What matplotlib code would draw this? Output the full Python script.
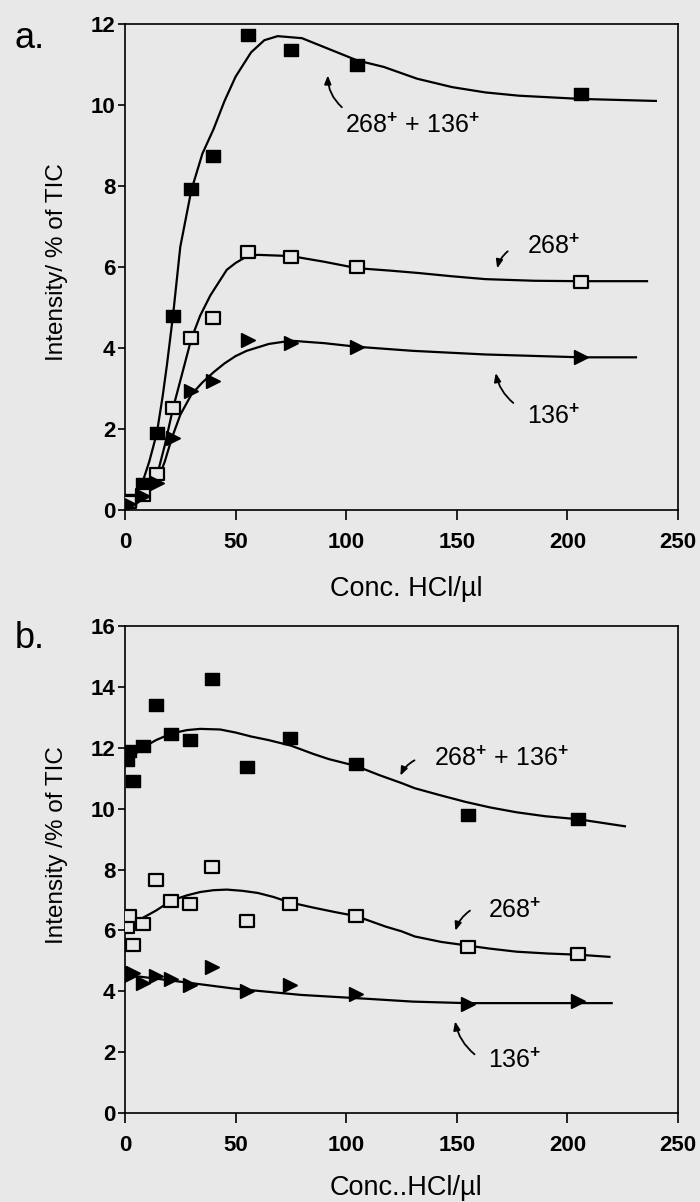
import matplotlib
matplotlib.use('Agg')
import matplotlib.pyplot as plt
from matplotlib.path import Path

plt.rcParams['font.family'] = ['Liberation Sans', 'DejaVu Sans']
plt.rcParams['mathtext.fontset'] = 'custom'
plt.rcParams['mathtext.rm'] = 'Liberation Sans'
plt.rcParams['mathtext.bf'] = 'Liberation Sans:bold'

BG = '#e8e8e8'

# ---- panel a: measured points ----
conc_a = [2, 8, 14.5, 21.5, 30, 40, 55.5, 75, 105, 206]
both_a = [0.25, 0.63, 1.9, 4.8, 7.92, 8.73, 11.74, 11.36, 11.0, 10.28]
m268_a = [0.2, 0.38, 0.9, 2.51, 4.24, 4.75, 6.37, 6.24, 5.99, 5.62]
m136_a = [0.15, 0.35, 0.67, 1.78, 2.94, 3.18, 4.2, 4.12, 4.03, 3.79]

# panel a: fitted curves
fit_both_a_x = [1, 4, 8, 11, 14.4, 17, 19, 21.7, 25, 30, 35, 40, 45, 50, 57, 63, 69,
                80, 95, 105, 117, 132, 148, 163, 178, 206, 240]
fit_both_a_y = [0.0, 0.15, 0.7, 1.2, 1.9, 2.8, 3.6, 4.8, 6.5, 7.9, 8.8, 9.4, 10.1, 10.7,
                11.3, 11.6, 11.7, 11.65, 11.32, 11.1, 10.94, 10.65, 10.44, 10.31, 10.23,
                10.15, 10.1]
fit_268_a_x = [1, 5, 8.3, 11.5, 14.7, 18, 21.7, 26, 30, 34, 38.6, 46, 50, 55, 60, 75,
               90, 105, 120, 133, 148, 163, 185, 206, 236]
fit_268_a_y = [0.0, 0.15, 0.38, 0.6, 0.9, 1.6, 2.51, 3.4, 4.23, 4.8, 5.3, 5.93, 6.1,
               6.26, 6.3, 6.27, 6.13, 5.97, 5.91, 5.85, 5.77, 5.7, 5.66, 5.65, 5.65]
fit_136_a_x = [1, 5, 8.3, 14.4, 18, 21.2, 25, 30, 35, 40, 45, 50, 55, 65, 75, 90, 105,
               130, 163, 206, 231]
fit_136_a_y = [0.0, 0.15, 0.33, 0.67, 1.2, 1.78, 2.35, 2.85, 3.15, 3.4, 3.62, 3.8, 3.93,
               4.1, 4.18, 4.12, 4.03, 3.93, 3.84, 3.77, 3.77]

# ---- panel b: measured points ----
conc_b = [1, 2, 3.5, 8, 14, 21, 29.5, 39.5, 55, 74.5, 104.5, 155, 205]
both_b = [11.6, 11.9, 10.9, 12.07, 13.39, 12.45, 12.24, 14.27, 11.38, 12.32, 11.46, 9.8, 9.67]
m268_b = [6.11, 6.47, 5.53, 6.22, 7.64, 6.95, 6.87, 8.08, 6.3, 6.87, 6.47, 5.45, 5.24]
m136_b = [4.68, 4.51, 4.6, 4.28, 4.51, 4.39, 4.22, 4.79, 4.01, 4.22, 3.92, 3.58, 3.69]

fit_both_b_x = [0, 4, 8, 14, 21, 28, 34, 43, 50, 57, 65, 75, 85, 92, 104.5, 115, 125,
                131, 142, 154, 165, 177, 190, 205, 226]
fit_both_b_y = [11.45, 11.75, 12.0, 12.25, 12.47, 12.58, 12.62, 12.6, 12.5, 12.37, 12.25,
                12.07, 11.8, 11.63, 11.4, 11.1, 10.84, 10.67, 10.45, 10.22, 10.04, 9.88,
                9.75, 9.65, 9.42]
fit_268_b_x = [0, 8, 14, 21, 28, 34, 40, 46, 53, 60, 67, 74.5, 85, 95, 104.5, 118, 125,
               131, 143, 154, 165, 177, 191, 205, 219]
fit_268_b_y = [6.24, 6.41, 6.65, 6.98, 7.15, 7.26, 7.32, 7.34, 7.3, 7.23, 7.1, 6.92, 6.75,
               6.6, 6.47, 6.12, 5.97, 5.8, 5.62, 5.51, 5.4, 5.3, 5.24, 5.2, 5.13]
fit_136_b_x = [0, 19, 49, 79.5, 110, 130, 154, 205, 220]
fit_136_b_y = [4.54, 4.37, 4.09, 3.88, 3.75, 3.66, 3.61, 3.61, 3.61]

# rectangle marker, a little wider than tall like the scan
RECT = Path([(-1.15, -1), (1.15, -1), (1.15, 1), (-1.15, 1), (-1.15, -1)],
            [Path.MOVETO, Path.LINETO, Path.LINETO, Path.LINETO, Path.CLOSEPOLY])

LBL = {'both': '268$^{\\mathbf{+}}$ + 136$^{\\mathbf{+}}$',
       '268': '268$^{\\mathbf{+}}$',
       '136': '136$^{\\mathbf{+}}$'}


def draw_panel(ax, x, yb, y268, y136, fits, ylim, yticks):
    ax.set_facecolor(BG)
    for fx, fy in fits:
        ax.plot(fx, fy, color='black', lw=1.6, zorder=2)
    ax.plot(x, yb, ls='none', marker=RECT, ms=10, color='black', zorder=3)
    ax.plot(x, y268, ls='none', marker=RECT, ms=10, mfc=BG, mec='black', mew=1.6, zorder=3)
    ax.plot(x, y136, ls='none', marker='>', ms=9.5, color='black', zorder=3)
    ax.set_xlim(0, 250)
    ax.set_ylim(*ylim)
    ax.set_xticks([0, 50, 100, 150, 200, 250])
    ax.set_yticks(yticks)
    ax.tick_params(axis='x', direction='out', length=7, width=1.2, pad=9, labelsize=16)
    ax.tick_params(axis='y', direction='out', length=5, width=1.2, pad=2, labelsize=16)
    for lab in ax.get_xticklabels() + ax.get_yticklabels():
        lab.set_fontweight('bold')
    for sp in ax.spines.values():
        sp.set_linewidth(1.2)


def note(ax, text, xy_text, tail, head, rad):
    ax.text(xy_text[0], xy_text[1], text, fontsize=18, ha='center', va='center')
    ax.annotate('', xy=head, xytext=tail,
                arrowprops=dict(arrowstyle='-|>,head_length=0.5,head_width=0.2',
                                color='black', lw=1.3,
                                connectionstyle='arc3,rad=%s' % rad))


fig = plt.figure(figsize=(7, 12.02), dpi=100, facecolor=BG)
axA = fig.add_axes([125 / 700, 1 - 510 / 1202, 553 / 700, 486 / 1202])
axB = fig.add_axes([125 / 700, 1 - 1113 / 1202, 553 / 700, 487 / 1202])

draw_panel(axA, conc_a, both_a, m268_a, m136_a,
           [(fit_both_a_x, fit_both_a_y), (fit_268_a_x, fit_268_a_y),
            (fit_136_a_x, fit_136_a_y)], (0, 12), [0, 2, 4, 6, 8, 10, 12])
draw_panel(axB, conc_b, both_b, m268_b, m136_b,
           [(fit_both_b_x, fit_both_b_y), (fit_268_b_x, fit_268_b_y),
            (fit_136_b_x, fit_136_b_y)], (0, 16), [0, 2, 4, 6, 8, 10, 12, 14, 16])

note(axA, LBL['both'], (130, 9.48), (99, 9.9), (91.7, 10.8), -0.25)
note(axA, LBL['268'], (194, 6.5), (174, 6.43), (168, 5.9), 0.2)
note(axA, LBL['136'], (194, 2.3), (176.5, 2.6), (167.4, 3.45), -0.2)

note(axB, LBL['both'], (170, 11.63), (132, 11.63), (124, 11.0), 0.2)
note(axB, LBL['268'], (176, 6.64), (157, 6.7), (149, 5.9), 0.2)
note(axB, LBL['136'], (176, 1.7), (159, 1.87), (149, 3.1), -0.2)

fig.text(30 / 700, 1 - 38 / 1202, 'a.', fontsize=26, ha='center', va='center')
fig.text(30 / 700, 1 - 638 / 1202, 'b.', fontsize=26, ha='center', va='center')
fig.text(57 / 700, 1 - 262 / 1202, 'Intensity/ % of TIC', fontsize=17.5,
         rotation=90, ha='center', va='center')
fig.text(57 / 700, 1 - 845 / 1202, 'Intensity /% of TIC', fontsize=17.5,
         rotation=90, ha='center', va='center')
fig.text(406 / 700, 1 - 589 / 1202, 'Conc. HCl/µl', fontsize=19.5, ha='center', va='center')
fig.text(406 / 700, 1 - 1188 / 1202, 'Conc..HCl/µl', fontsize=19.5, ha='center', va='center')

fig.savefig('out.png', dpi=100, facecolor=BG)
